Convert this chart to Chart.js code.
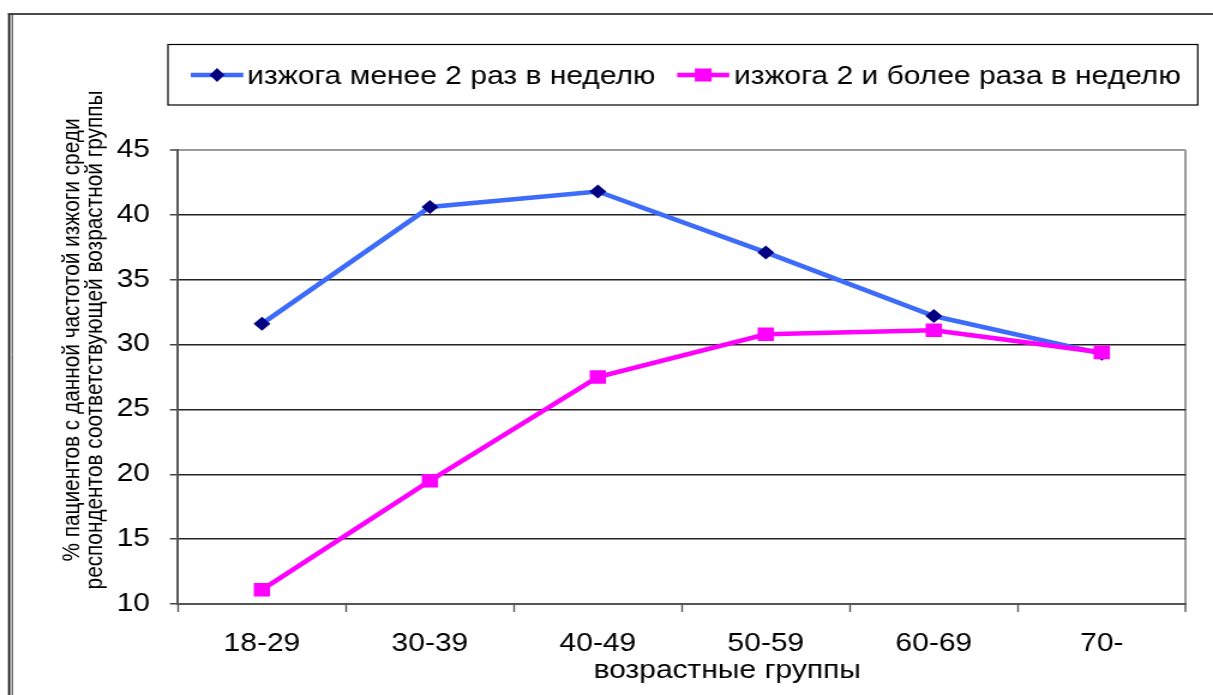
<!DOCTYPE html>
<html>
<head>
<meta charset="utf-8">
<script src="https://cdn.jsdelivr.net/npm/chart.js@4.4.0/dist/chart.umd.min.js"></script>
<style>
  html, body { margin: 0; padding: 0; background: #fff; overflow: hidden; }
  /* the chart is laid out on a narrower canvas and widened to the page */
  #wrap { width: 1011px; height: 695px; transform: scaleX(1.1998); transform-origin: 0 0; }
  canvas { display: block; }
</style>
</head>
<body>
<div id="wrap"><canvas id="chart" width="1011" height="695"></canvas></div>
<script>
// Age groups and share of patients (%) for each heartburn frequency
const ageGroups = ['18-29', '30-39', '40-49', '50-59', '60-69', '70-'];
const lessThanTwiceWeekly = [31.6, 40.6, 41.8, 37.1, 32.2, 29.3];
const twiceOrMoreWeekly = [11.1, 19.5, 27.5, 30.8, 31.1, 29.4];
const seriesNames = ['изжога менее 2 раз в неделю', 'изжога 2 и более раза в неделю'];
const yTitleLines = ['% пациентов с данной частотой изжоги среди', 'респондентов соответствующей возрастной группы'];
const xTitle = 'возрастные группы';
const yMin = 10, yMax = 45, yStep = 5;

const FONT = '"Liberation Sans", Arial, sans-serif';
const BLUE = '#3D6BFA';
const NAVY = '#000080';
const MAGENTA = '#FF00FF';

// Outer frame, legend box and axis titles
const decorations = {
  id: 'decorations',
  beforeDraw(chart) {
    const c = chart.ctx;
    c.save();
    c.fillStyle = '#fff';
    c.fillRect(0, 0, chart.width, chart.height);
    c.strokeStyle = '#111';
    c.lineWidth = 1.7;
    c.beginPath();
    c.moveTo(6.5, 14); c.lineTo(chart.width, 14);
    c.moveTo(7.6, 14); c.lineTo(7.6, chart.height);
    c.stroke();
    c.lineWidth = 0.9;
    c.beginPath();
    c.moveTo(10.2, 14); c.lineTo(10.2, chart.height);
    c.stroke();
    c.restore();
  },
  afterDraw(chart) {
    const c = chart.ctx;
    const area = chart.chartArea;
    c.save();
    // legend
    c.strokeStyle = '#000';
    c.lineWidth = 1.2;
    c.strokeRect(140, 44.5, 858.3, 60.5);
    const items = [
      { x1: 159, x2: 202.8, tx: 206, color: BLUE, marker: 'diamond' },
      { x1: 564.4, x2: 607.8, tx: 611.7, color: MAGENTA, marker: 'square' }
    ];
    const ly = 75;
    items.forEach((it, i) => {
      const ds = chart.data.datasets[i];
      c.strokeStyle = it.color;
      c.lineWidth = 4.5;
      c.beginPath();
      c.moveTo(it.x1, ly); c.lineTo(it.x2, ly);
      c.stroke();
      const mx = (it.x1 + it.x2) / 2;
      c.fillStyle = ds.pointBackgroundColor;
      c.beginPath();
      if (it.marker === 'diamond') {
        c.moveTo(mx - 6.2, ly); c.lineTo(mx, ly - 7); c.lineTo(mx + 6.2, ly); c.lineTo(mx, ly + 7);
        c.closePath();
      } else {
        c.rect(mx - 7, ly - 6.5, 14, 13);
      }
      c.fill();
      c.fillStyle = '#000';
      c.font = '25px ' + FONT;
      c.textAlign = 'left';
      c.textBaseline = 'alphabetic';
      c.fillText(ds.label, it.tx, 83.5);
    });
    // x axis title
    c.font = '25px ' + FONT;
    c.textAlign = 'center';
    c.textBaseline = 'alphabetic';
    c.fillText(xTitle, area.left + (area.right - area.left) * 0.545, 678);
    // y axis title, two lines
    c.font = '20.8px ' + FONT;
    c.translate(0, 340);
    c.rotate(-Math.PI / 2);
    c.textAlign = 'center';
    c.textBaseline = 'alphabetic';
    c.fillText(yTitleLines[0], 0, 65.5);
    c.fillText(yTitleLines[1], 0, 84.5);
    c.restore();
  }
};

new Chart(document.getElementById('chart'), {
  type: 'line',
  data: {
    labels: ageGroups,
    datasets: [
      {
        label: seriesNames[0],
        data: lessThanTwiceWeekly,
        borderColor: BLUE,
        backgroundColor: NAVY,
        borderWidth: 4.6,
        tension: 0,
        pointStyle: 'rectRot',
        pointRadius: 7,
        pointBackgroundColor: NAVY,
        pointBorderColor: NAVY,
        pointBorderWidth: 0,
        order: 2
      },
      {
        label: seriesNames[1],
        data: twiceOrMoreWeekly,
        borderColor: MAGENTA,
        backgroundColor: MAGENTA,
        borderWidth: 4.6,
        tension: 0,
        pointStyle: 'rect',
        pointRadius: 9.6,
        pointBackgroundColor: MAGENTA,
        pointBorderColor: MAGENTA,
        pointBorderWidth: 0,
        order: 1
      }
    ]
  },
  options: {
    responsive: false,
    animation: false,
    devicePixelRatio: 1,
    layout: { padding: { top: 150, right: 22.7, left: 0, bottom: 0 } },
    plugins: { legend: { display: false }, tooltip: { enabled: false } },
    scales: {
      x: {
        offset: true,
        grid: {
          offset: true,
          drawOnChartArea: true,
          color: (ctx) => ctx.type === 'tick' ? 'rgba(0,0,0,0)' : '#9a9a9a',
          lineWidth: (ctx) => ctx.type === 'tick' ? 1 : 2,
          tickColor: '#555',
          tickWidth: 1.4,
          tickLength: 8
        },
        border: { color: '#555', width: 2 },
        ticks: { font: { family: FONT, size: 25 }, color: '#000', padding: 17, maxRotation: 0 },
        afterFit: (s) => { s.height = 91; }
      },
      y: {
        min: yMin,
        max: yMax,
        ticks: { stepSize: yStep, font: { family: FONT, size: 25 }, color: '#000', padding: 16.6 },
        grid: {
          color: (ctx) => ctx.tick && ctx.tick.value === yMax ? '#9a9a9a' : '#222',
          lineWidth: (ctx) => ctx.tick && ctx.tick.value === yMax ? 2 : 1.5,
          tickColor: '#444',
          tickWidth: 1.5,
          tickLength: 6.7
        },
        border: { color: '#555', width: 2 },
        afterFit: (s) => { s.width = 148.3; }
      }
    }
  },
  plugins: [decorations]
});
</script>
</body>
</html>
